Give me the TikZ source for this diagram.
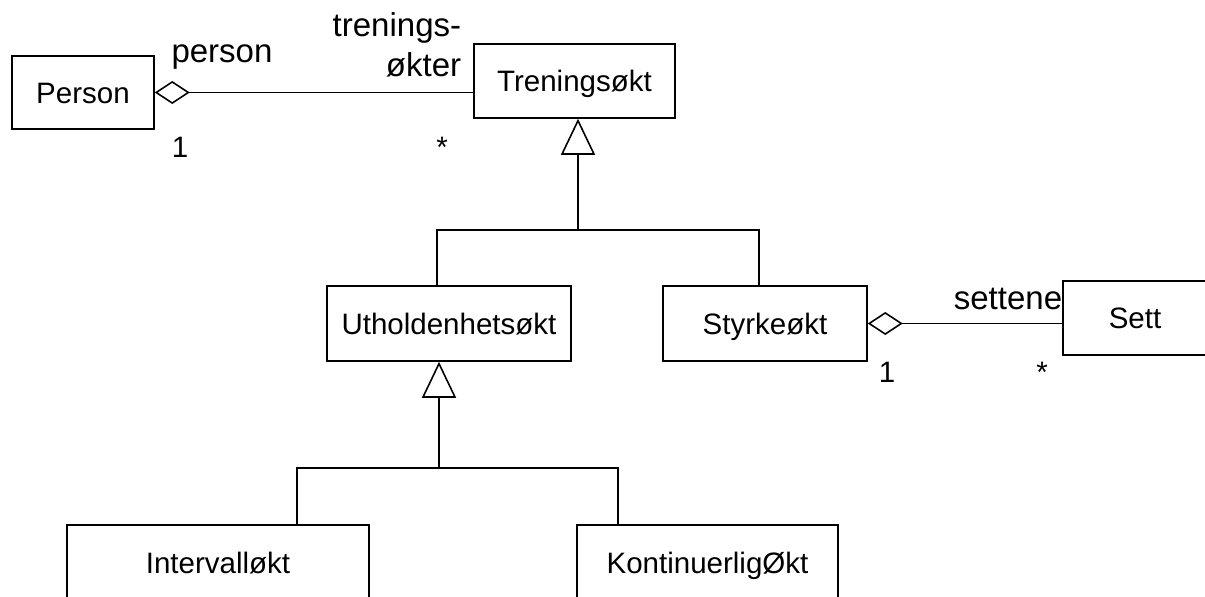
\documentclass[tikz,border=0pt]{standalone}
\usepackage{fontspec}
\setmainfont{Liberation Sans}
\usetikzlibrary{arrows.meta,positioning}

\begin{document}
\begin{tikzpicture}[x=0.02cm, y=-0.02cm, line width=0.9pt, cls/.style = {draw, rectangle, inner sep=0pt, minimum height=1.5cm, text height=15pt, text depth=3pt, align=center, font=\fontsize{16.8}{20}\selectfont},
                 lbl/.style = {inner sep=0pt, font=\fontsize{18.8}{22.8}\selectfont}, mult/.style = {inner sep=0pt, anchor=base, font=\fontsize{16.8}{20}\selectfont},
                 aggr/.style = {-{Diamond[open, length=0.7cm, width=0.46cm]}}, gen/.style = {-{Triangle[open, length=0.72cm, width=0.68cm]}}]

\clip (0,0) rectangle (1205,597);
% Nodes
\node (person) [cls, minimum width=2.84cm, minimum height=1.46cm] at (83,92.5) {Person};
\node (trening) [cls, minimum width=4.02cm, minimum height=1.48cm] at (574.5,81) {Treningsøkt};
\node (uthold) [cls, minimum width=4.88cm] at (449,323.5) {Utholdenhetsøkt};
\node (styrke) [cls, minimum width=4.08cm] at (765,323.5) {Styrkeøkt};
\node (sett) [cls, minimum width=2.88cm, minimum height=1.48cm] at (1135,318) {Sett};
\node (intervall) [cls, minimum width=6.04cm] at (218,562.5) {Intervalløkt};
\node (kontinuerlig) [cls, minimum width=5.22cm] at (707.5,562.5) {KontinuerligØkt};

% Labels
\node (rolleperson) [lbl, anchor=base] at (222,63) {person};
\node (rolleokter) [lbl, align=right, anchor=base east] at (462,77) {trenings-\\økter};
\node (rollesett) [lbl, anchor=base] at (1008,310) {settene};
\node (multperson) [mult] at (180,158) {1};
\node (multokter) [mult] at (442,158) {*};
\node (multstyrke) [mult] at (887,383) {1};
\node (multsett) [mult] at (1042,383) {*};

% Arrows
\draw [aggr] (person.east -| trening.west) -- (person.east);
\draw [aggr] (styrke.east -| sett.west) -- (styrke.east);

\coordinate (bar1) at (578,230);
\draw [gen] (bar1) -- (bar1 |- trening.south);
\draw ([xshift=-0.24cm]uthold.north) |- (bar1) -| ([xshift=-0.12cm]styrke.north);

\coordinate (bar2) at (439,468);
\draw [gen] (bar2) -- (bar2 |- uthold.south);
\draw ([xshift=1.58cm]intervall.north) |- (bar2) -| ([xshift=-1.79cm]kontinuerlig.north);
\end{tikzpicture}
\end{document}
